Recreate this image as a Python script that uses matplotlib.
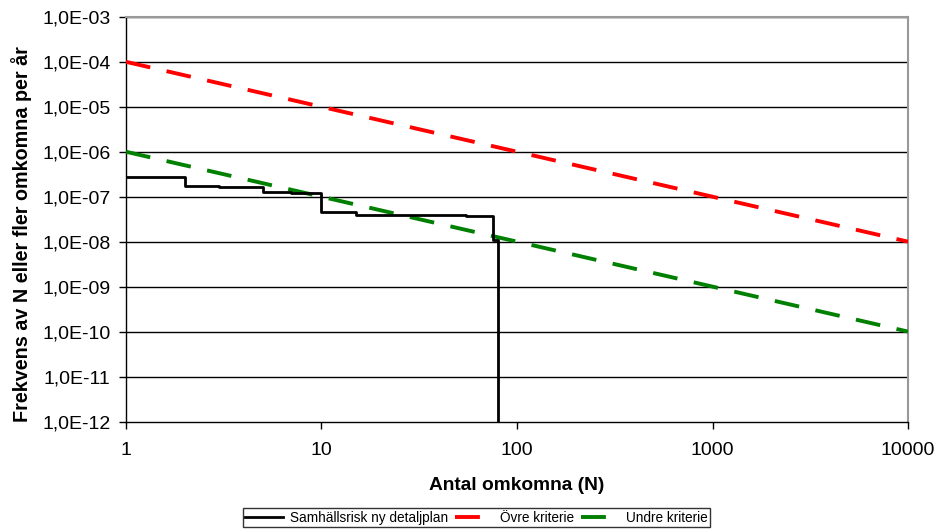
import matplotlib.pyplot as plt
from matplotlib.ticker import FixedLocator, FuncFormatter, NullLocator

plt.rcParams['font.family'] = ['Liberation Sans', 'DejaVu Sans']

# Samhällsrisk, ny detaljplan (F/N-kurva)
antal = [1, 2, 3, 5, 7, 10, 15, 55, 75, 80]
frekvens = [2.8e-7, 1.7e-7, 1.65e-7, 1.25e-7, 1.22e-7, 4.5e-8, 3.85e-8, 3.7e-8, 1.1e-8, 1e-14]

# Kriterier
krit_n = [1, 10000]
ovre = [1e-4, 1e-8]
undre = [1e-6, 1e-10]

x_ticks = [1, 10, 100, 1000, 10000]
y_ticks = [10.0 ** -k for k in range(12, 2, -1)]

fig = plt.figure(figsize=(9.36, 5.32), dpi=100)
ax = fig.add_axes([0.1346, 0.2077, 0.8355, 0.7606])

ax.set_xscale('log')
ax.set_yscale('log')
ax.set_xlim(1, 10000)
ax.set_ylim(1e-12, 1e-3)

for y in y_ticks[1:]:
    ax.axhline(y, color='black', lw=1.0, zorder=1)

ax.step(antal + [80], frekvens + [1e-14], where='post', color='black', lw=2,
        label='Samhällsrisk ny detaljplan', zorder=4)
ax.plot(krit_n, ovre, color='#ff0000', lw=2.8, dashes=(6.4, 4.3),
        label='Övre kriterie', zorder=3)
ax.plot(krit_n, undre, color='#008000', lw=2.8, dashes=(6.4, 4.3),
        label='Undre kriterie', zorder=3)

ax.xaxis.set_major_locator(FixedLocator(x_ticks))
ax.yaxis.set_major_locator(FixedLocator(y_ticks))
ax.xaxis.set_minor_locator(NullLocator())
ax.yaxis.set_minor_locator(NullLocator())
ax.xaxis.set_major_formatter(FuncFormatter(lambda v, p: '%d' % round(v)))
ax.yaxis.set_major_formatter(
    FuncFormatter(lambda v, p: ('%.1E' % v).replace('.', ',')))
ax.tick_params(axis='both', direction='out', length=5, width=1, labelsize=14,
               colors='black')
ax.tick_params(axis='x', pad=10)
ax.tick_params(axis='y', pad=6)

for side in ('left', 'bottom'):
    ax.spines[side].set_color('black')
    ax.spines[side].set_linewidth(1)
for side in ('top', 'right'):
    ax.spines[side].set_color('#999999')
    ax.spines[side].set_linewidth(1.5)

ax.set_xlabel('Antal omkomna (N)', fontsize=13.8, fontweight='bold')
ax.set_ylabel('Frekvens av N eller fler omkomna per år', fontsize=14.2,
              fontweight='bold')
ax.xaxis.set_label_coords(0.5, -0.136)
ax.yaxis.set_label_coords(-0.120, 0.463)

leg = fig.legend(loc='center', bbox_to_anchor=(0.509, 0.027), ncol=3,
                 fontsize=9.8, frameon=True, fancybox=False, handlelength=2.8,
                 handletextpad=0.5, columnspacing=0.5, borderpad=0.2,
                 borderaxespad=0)
leg.get_frame().set_edgecolor('black')
leg.get_frame().set_linewidth(1)

fig.savefig('out.png', dpi=100)
